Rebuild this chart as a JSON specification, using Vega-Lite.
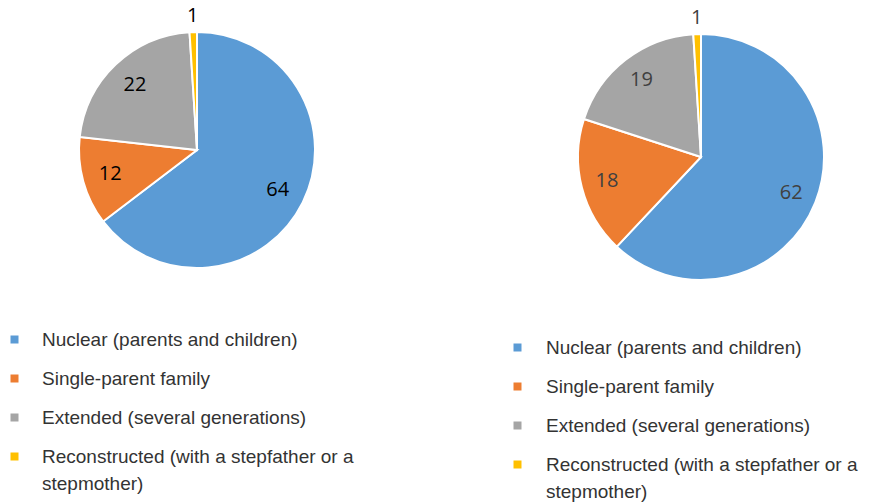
{
  "$schema": "https://vega.github.io/schema/vega-lite/v6.json",
  "padding": 0,
  "bounds": "flush",
  "spacing": 147,
  "background": "white",
  "config": {"view": {"stroke": null}, "style": {"guide-label": {"lineHeight": 27}}},
  "datasets": {
    "a": [
      {"category": "Nuclear (parents and children)", "value": 64, "idx": 1},
      {"category": "Single-parent family", "value": 12, "idx": 2},
      {"category": "Extended (several generations)", "value": 22, "idx": 3},
      {"category": "Reconstructed (with a stepfather or a stepmother)", "value": 1, "idx": 4}
    ],
    "b": [
      {"category": "Nuclear (parents and children)", "value": 62, "idx": 1},
      {"category": "Single-parent family", "value": 18, "idx": 2},
      {"category": "Extended (several generations)", "value": 19, "idx": 3},
      {"category": "Reconstructed (with a stepfather or a stepmother)", "value": 1, "idx": 4}
    ]
  },
  "resolve": {"scale": {"color": "independent", "theta": "independent", "radius": "independent"}, "legend": {"color": "independent"}},
  "hconcat": [
    {
      "width": 394,
      "height": 300,
      "data": {"name": "a"},
      "layer": [
        {
          "mark": {"type": "arc", "radius": 118, "stroke": "white", "strokeWidth": 2},
          "encoding": {
            "theta": {"field": "value", "type": "quantitative", "stack": true},
            "order": {"field": "idx", "type": "quantitative"},
            "color": {
              "field": "category", "type": "nominal",
              "scale": {
                "domain": ["Nuclear (parents and children)", "Single-parent family", "Extended (several generations)", "Reconstructed (with a stepfather or a stepmother)"],
                "range": ["#5B9BD5", "#ED7D31", "#A5A5A5", "#FFC000"]
              },
              "legend": {
                "title": null, "orient": "none", "legendX": 5, "legendY": 330,
                "symbolType": "square", "symbolSize": 64, "symbolStrokeWidth": 0,
                "labelFont": "Liberation Sans", "labelFontSize": 19, "labelColor": "#333333",
                "labelLimit": 500, "rowPadding": 19, "labelOffset": 18, "padding": 0,
                "labelExpr": "datum.label == 'Reconstructed (with a stepfather or a stepmother)' ? ['Reconstructed (with a stepfather or a', 'stepmother)'] : datum.label",
                "encode": {"labels": {"update": {"lineHeight": {"value": 27}}}}
              }
            }
          }
        },
        {
          "mark": {"type": "text", "font": "Open Sans", "fontSize": 20, "fill": "#000000"},
          "encoding": {
            "theta": {"field": "value", "type": "quantitative", "stack": true},
            "order": {"field": "idx", "type": "quantitative"},
            "radius": {"field": "value", "type": "quantitative", "scale": {"type": "linear", "domain": [1, 5], "range": [134, 90], "clamp": true, "zero": false}},
            "text": {"field": "value", "type": "quantitative"}
          }
        }
      ]
    },
    {
      "width": 320,
      "height": 314,
      "data": {"name": "b"},
      "layer": [
        {
          "mark": {"type": "arc", "radius": 123, "stroke": "white", "strokeWidth": 2},
          "encoding": {
            "theta": {"field": "value", "type": "quantitative", "stack": true},
            "order": {"field": "idx", "type": "quantitative"},
            "color": {
              "field": "category", "type": "nominal",
              "scale": {
                "domain": ["Nuclear (parents and children)", "Single-parent family", "Extended (several generations)", "Reconstructed (with a stepfather or a stepmother)"],
                "range": ["#5B9BD5", "#ED7D31", "#A5A5A5", "#FFC000"]
              },
              "legend": {
                "title": null, "orient": "none", "legendX": -33, "legendY": 338,
                "symbolType": "square", "symbolSize": 64, "symbolStrokeWidth": 0,
                "labelFont": "Liberation Sans", "labelFontSize": 19, "labelColor": "#333333",
                "labelLimit": 500, "rowPadding": 19, "labelOffset": 19, "padding": 0,
                "labelExpr": "datum.label == 'Reconstructed (with a stepfather or a stepmother)' ? ['Reconstructed (with a stepfather or a', 'stepmother)'] : datum.label",
                "encode": {"labels": {"update": {"lineHeight": {"value": 27}}}}
              }
            }
          }
        },
        {
          "mark": {"type": "text", "font": "Open Sans", "fontSize": 20, "fill": "#404040"},
          "encoding": {
            "theta": {"field": "value", "type": "quantitative", "stack": true},
            "order": {"field": "idx", "type": "quantitative"},
            "radius": {"field": "value", "type": "quantitative", "scale": {"type": "linear", "domain": [1, 5], "range": [139, 97], "clamp": true, "zero": false}},
            "text": {"field": "value", "type": "quantitative"}
          }
        }
      ]
    }
  ]
}
